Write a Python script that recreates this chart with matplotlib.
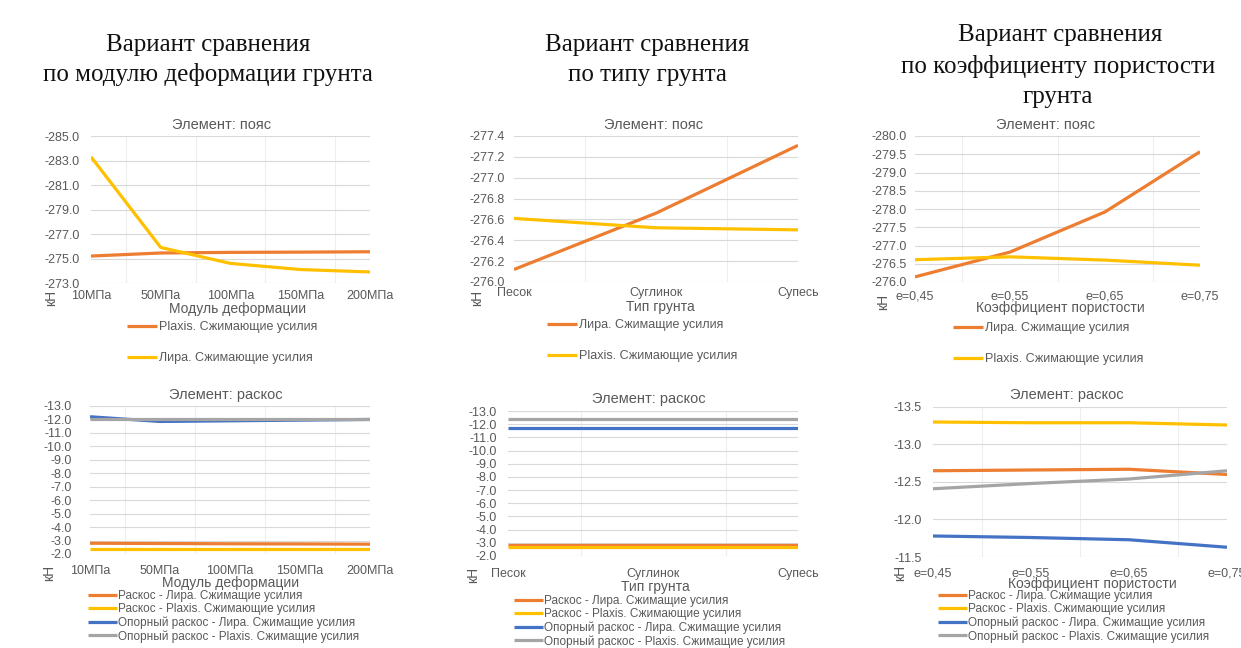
import matplotlib
matplotlib.use("Agg")
import matplotlib.pyplot as plt
from matplotlib.ticker import MultipleLocator, FormatStrFormatter
import numpy as np

# ---------------- data ----------------
cats_E = ['10МПа', '50МПа', '100МПа', '150МПа', '200МПа']
E_belt_plaxis = [-275.2, -275.45, -275.5, -275.52, -275.55]
E_belt_lira = [-283.3, -275.9, -274.6, -274.1, -273.9]
E_brace_lira = [-2.8, -2.78, -2.76, -2.75, -2.73]
E_brace_plaxis = [-2.4, -2.4, -2.4, -2.4, -2.4]
E_sup_lira = [-12.2, -11.85, -11.9, -11.95, -12.0]
E_sup_plaxis = [-12.0, -12.0, -12.0, -12.0, -12.0]

cats_soil = ['Песок', 'Суглинок', 'Супесь']
S_belt_lira = [-276.12, -276.66, -277.31]
S_belt_plaxis = [-276.61, -276.52, -276.5]
S_brace_lira = [-2.85, -2.85, -2.85]
S_brace_plaxis = [-2.65, -2.65, -2.65]
S_sup_lira = [-11.73, -11.73, -11.73]
S_sup_plaxis = [-12.4, -12.4, -12.4]

cats_e = ['e=0,45', 'e=0,55', 'e=0,65', 'e=0,75']
P_belt_lira = [-276.14, -276.82, -277.92, -279.57]
P_belt_plaxis = [-276.61, -276.69, -276.6, -276.46]
P_brace_lira = [-12.65, -12.66, -12.67, -12.6]
P_brace_plaxis = [-13.3, -13.29, -13.29, -13.26]
P_sup_lira = [-11.78, -11.76, -11.73, -11.63]
P_sup_plaxis = [-12.41, -12.48, -12.54, -12.65]

lbl_plaxis = 'Plaxis. Сжимающие усилия'
lbl_lira = 'Лира. Сжимащие усилия'
lbl_lira2 = 'Лира. Сжимающие усилия'
lbl_b_lira = 'Раскос - Лира. Сжимащие усилия'
lbl_b_plaxis = 'Раскос - Plaxis. Сжимающие усилия'
lbl_s_lira = 'Опорный раскос - Лира. Сжимащие усилия'
lbl_s_plaxis = 'Опорный раскос - Plaxis. Сжимащие усилия'

ORANGE = '#ED7D31'
YELLOW = '#FFC000'
BLUE = '#4472C4'
GRAY = '#A5A5A5'
TXT = '#595959'
GRID = '#D9D9D9'

W, H = 1241, 648
plt.rcParams['font.family'] = ['Liberation Sans', 'DejaVu Sans']
fig = plt.figure(figsize=(W / 100, H / 100), dpi=100)


def rect(l, t, r, b):
    return [l / W, 1 - b / H, (r - l) / W, (b - t) / H]


def ftext(x, y, s, **kw):
    fig.text(x / W, 1 - y / H, s, ha='center', va='center', **kw)


def panel(box, cats, series, ylo, yhi, ystep, fmt, xpad, ypad,
          title, tpos, xlabel, xlpos, knpos, legpos, legspacing, legfs):
    ax = fig.add_axes(rect(*box))
    x = np.arange(len(cats))
    for vals, col, lab in series:
        ax.plot(x, vals, color=col, lw=2.3, label=lab, solid_capstyle='butt')
    ax.set_xlim(0, len(cats) - 1)
    ax.set_ylim(ylo, yhi)
    nt = int(round(abs(yhi - ylo) / ystep)) + 1
    ax.set_yticks(np.linspace(ylo, yhi, nt))
    ax.yaxis.set_major_formatter(FormatStrFormatter(fmt))
    ax.set_xticks(x)
    ax.set_xticklabels(cats)
    ax.xaxis.set_minor_locator(MultipleLocator(0.5))
    ax.grid(True, which='major', axis='y', color=GRID, lw=0.8)
    ax.grid(True, which='minor', axis='x', color='#EEEEEE', lw=0.8)
    ax.set_axisbelow(True)
    for s in ax.spines.values():
        s.set_visible(False)
    ax.tick_params(axis='both', which='both', length=0, colors=TXT, labelsize=9)
    ax.tick_params(axis='x', pad=xpad * 0.72)
    ax.tick_params(axis='y', pad=ypad * 0.72)
    ftext(*tpos, title, fontsize=10.5, color=TXT)
    ftext(*xlpos, xlabel, fontsize=10, color=TXT)
    ftext(*knpos, 'кН', fontsize=10, color=TXT, rotation=90)
    ax.legend(loc='upper center', bbox_to_anchor=(legpos[0] / W, 1 - legpos[1] / H),
              bbox_transform=fig.transFigure, frameon=False, fontsize=legfs,
              labelcolor=TXT, handlelength=2.4, handletextpad=0.15,
              labelspacing=legspacing, borderpad=0, borderaxespad=0)
    return ax


# big titles
SERIF = dict(fontsize=18, family='Liberation Serif', color='#111111')
ftext(208, 45, 'Вариант сравнения', **SERIF)
ftext(208, 75, 'по модулю деформации грунта', **SERIF)
ftext(647, 45, 'Вариант сравнения', **SERIF)
ftext(647, 75, 'по типу грунта', **SERIF)
ftext(1060, 35, 'Вариант сравнения', **SERIF)
ftext(1058, 66, 'по коэффициенту пористости', **SERIF)
ftext(1058, 97, 'грунта', **SERIF)

# top-left
panel((91, 136, 370, 283), cats_E,
      [(E_belt_plaxis, ORANGE, lbl_plaxis), (E_belt_lira, YELLOW, lbl_lira2)],
      -273, -285, 2, '%.1f', 7, 11,
      'Элемент: пояс', (222, 125), 'Модуль деформации', (238, 309), (51, 298),
      (222, 321), 1.55, 9)
# bottom-left
panel((90, 406, 370, 554), cats_E,
      [(E_brace_lira, ORANGE, lbl_b_lira), (E_brace_plaxis, YELLOW, lbl_b_plaxis),
       (E_sup_lira, BLUE, lbl_s_lira), (E_sup_plaxis, GRAY, lbl_s_plaxis)],
      -2, -13, 1, '%.1f', 11, 18,
      'Элемент: раскос', (226, 395), 'Модуль деформации', (231, 583), (49, 573),
      (224, 590), 0.1, 8.5)
# top-middle
panel((514, 136, 798, 282), cats_soil,
      [(S_belt_lira, ORANGE, lbl_lira), (S_belt_plaxis, YELLOW, lbl_plaxis)],
      -276.0, -277.4, 0.2, '%.1f', 5, 9,
      'Элемент: пояс', (654, 125), 'Тип грунта', (660, 307), (477, 298),
      (642, 319), 1.55, 9)
# bottom-middle
panel((508, 411, 798, 556), cats_soil,
      [(S_brace_lira, ORANGE, lbl_b_lira), (S_brace_plaxis, YELLOW, lbl_b_plaxis),
       (S_sup_lira, BLUE, lbl_s_lira), (S_sup_plaxis, GRAY, lbl_s_plaxis)],
      -2, -13, 1, '%.1f', 12, 11,
      'Элемент: раскос', (649, 399), 'Тип грунта', (655, 587), (473, 575),
      (650, 595), 0.1, 8.5)
# top-right
panel((915, 136, 1200, 282), cats_e,
      [(P_belt_lira, ORANGE, lbl_lira), (P_belt_plaxis, YELLOW, lbl_plaxis)],
      -276, -280, 0.5, '%.1f', 9, 8,
      'Элемент: пояс', (1046, 125), 'Коэффициент пористости', (1060, 308), (883, 302),
      (1048, 322), 1.55, 9)
# bottom-right
panel((933, 407, 1227, 557), cats_e,
      [(P_brace_lira, ORANGE, lbl_b_lira), (P_brace_plaxis, YELLOW, lbl_b_plaxis),
       (P_sup_lira, BLUE, lbl_s_lira), (P_sup_plaxis, GRAY, lbl_s_plaxis)],
      -11.5, -13.5, 0.5, '%.1f', 10, 11,
      'Элемент: раскос', (1067, 395), 'Коэффициент пористости', (1092, 584), (900, 573),
      (1074, 590), 0.1, 8.5)

fig.savefig('out.png', dpi=100)
